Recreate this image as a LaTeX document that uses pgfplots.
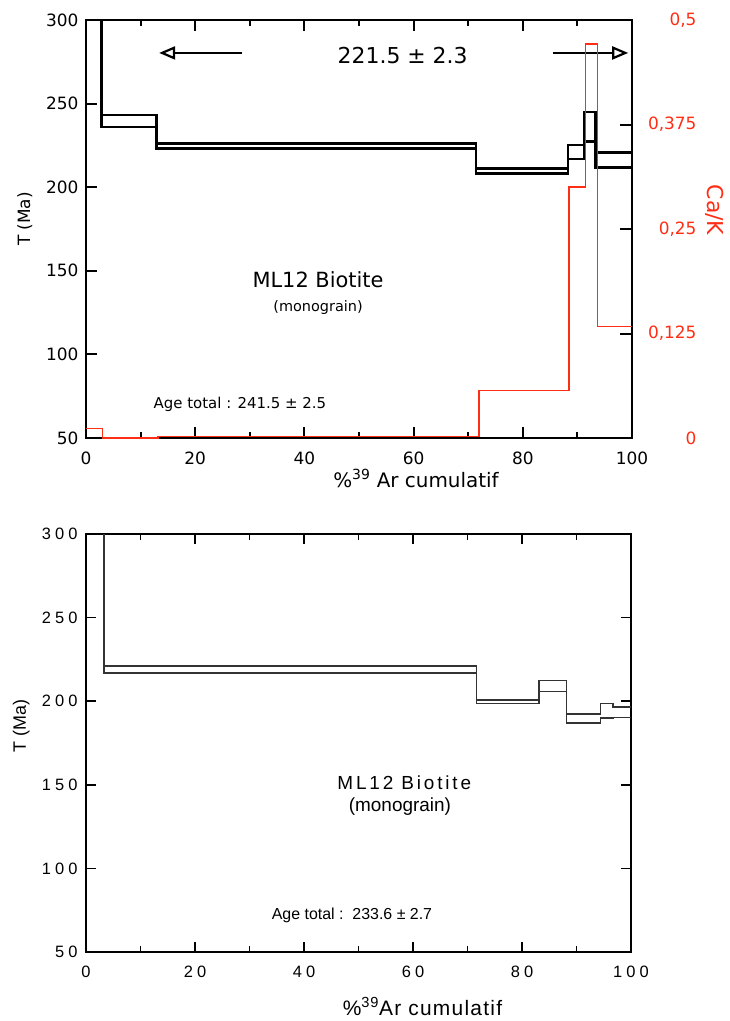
\documentclass[border=0pt]{standalone}
\usepackage{pgfplots}
\pgfplotsset{compat=1.18}
\usetikzlibrary{arrows.meta}
\usepackage{fontspec}
\setmainfont{DejaVu Sans}
\newfontfamily\helv{Liberation Sans}
\newfontfamily\helvsp[LetterSpace=25]{Liberation Sans}
\newfontfamily\helvml[LetterSpace=15]{Liberation Sans}
\newfontfamily\helvlb[LetterSpace=6]{Liberation Sans}
\definecolor{cak}{RGB}{255,45,20}

\begin{document}
\begin{tikzpicture}[x=1bp,y=1bp]
\path[use as bounding box] (0,0) rectangle (730,-1021);

% ---------- top panel: age spectrum ----------
\begin{axis}[
  at={(86bp,-438bp)}, anchor=south west,
  scale only axis, width=546bp, height=418bp,
  xmin=0, xmax=100, ymin=50, ymax=300,
  xtick={0,20,...,100}, minor xtick={10,30,...,90},
  ytick={50,100,...,300},
  xtick pos=both, ytick pos=left,
  tick align=inside,
  major tick length=11bp, minor tick length=6bp,
  axis line style={line width=2.2bp},
  every tick/.style={line width=2bp, black},
  /pgf/number format/assume math mode=true,
  tick label style={font=\fontsize{17}{20}\selectfont},
  xticklabel style={yshift=-10bp},
  yticklabel style={xshift=-4bp},
  xlabel={\%\textsuperscript{39} Ar cumulatif},
  xlabel style={at={(axis description cs:0.5,0)}, anchor=base, xshift=57bp, yshift=-49bp,
    font=\fontsize{20}{24}\selectfont},
  ylabel={T (Ma)},
  ylabel style={at={(axis description cs:0,0.5)}, anchor=south, xshift=10bp, yshift=50bp,
    font=\fontsize{17}{20}\selectfont},
  clip=true,
]
% upper and lower limits of each step
\addplot[const plot, line width=2.6bp, black] coordinates {
  (0,400) (2.8,243.2) (12.9,226.2) (71.4,211.3) (88.3,225.2) (91.2,245.0) (93.3,220.9) (100,220.9)
};
\addplot[const plot, line width=2.6bp, black] coordinates {
  (0,400) (2.8,236.0) (12.9,223.3) (71.4,208.1) (88.3,216.9) (91.2,227.2) (93.3,211.9) (100,211.9)
};
\draw[line width=2bp, -{Triangle[open,length=16bp,width=13bp,line width=2.2bp]}] (axis cs:28.6,280.3) -- (axis cs:13.4,280.3);
\draw[line width=2bp, -{Triangle[open,length=16bp,width=13bp,line width=2.2bp]}] (axis cs:85.5,280.3) -- (axis cs:99.3,280.3);
\node[font=\fontsize{22}{25}\selectfont] at (axis cs:58,278.5) {221.5 ± 2.3};
\node[font=\fontsize{21}{24}\selectfont] at (axis cs:42.5,144.5) {ML12 Biotite};
\node[font=\fontsize{14.5}{17}\selectfont] at (axis cs:42.5,128.3) {(monograin)};
\node[font=\fontsize{15}{18}\selectfont] at (axis cs:28.2,70.3) {Age total : 241.5 ± 2.5};
\end{axis}

% ---------- top panel: Ca/K on the right ----------
\begin{axis}[
  at={(86bp,-438bp)}, anchor=south west,
  scale only axis, width=546bp, height=418bp,
  xmin=0, xmax=100, ymin=0, ymax=0.5,
  axis x line=none, axis y line*=right,
  ytick={0,0.125,0.25,0.375,0.5},
  yticklabels={0,{0,125},{0,25},{0,375},{0,5}},
  tick align=inside,
  major tick length=12bp,
  axis line style={line width=2.2bp},
  every tick/.style={line width=2bp, black},
  yticklabel style={font=\fontsize{17}{20}\selectfont, text=cak, anchor=east, xshift=68bp},
  ylabel={Ca/K},
  ylabel style={rotate=180, at={(axis description cs:1,0.5)}, anchor=south,
    xshift=-19bp, yshift=70bp, text=cak, font=\fontsize{22}{26}\selectfont},
]
\addplot[const plot, line width=1.6bp, cak] coordinates {
  (0,0.0116) (3.0,0) (13.2,0.002) (72.0,0.0566) (88.5,0.300) (91.5,0.4716) (93.7,0.1336) (100,0.1336)
};
\end{axis}

% ---------- bottom panel ----------
\begin{axis}[
  at={(86bp,-952bp)}, anchor=south west,
  scale only axis, width=545bp, height=418bp,
  xmin=0, xmax=100, ymin=50, ymax=300,
  xtick={0,20,...,100}, minor xtick={10,30,...,90},
  ytick={50,100,...,300},
  xtick pos=both, ytick pos=both,
  tick align=inside,
  major tick length=10bp, minor tick length=6bp,
  axis line style={line width=1.6bp},
  every tick/.style={line width=1.5bp, black},
  /pgf/number format/assume math mode=true,
  tick label style={font=\helvsp\fontsize{16.5}{19}\selectfont},
  xticklabel style={yshift=-10bp},
  yticklabel style={xshift=-5bp},
  xlabel={\%\textsuperscript{39}Ar cumulatif},
  xlabel style={at={(axis description cs:0.5,0)}, anchor=base, xshift=64bp, yshift=-63bp,
    font=\helvlb\fontsize{21}{25}\selectfont},
  ylabel={T (Ma)},
  ylabel style={at={(axis description cs:0,0.5)}, anchor=south, xshift=17bp, yshift=53bp,
    font=\helv\fontsize{18}{22}\selectfont},
]
\addplot[const plot, line width=1.3bp, black!80] coordinates {
  (0,400) (3.3,221.1) (71.7,200.7) (83.1,212.3) (88.2,192.3) (94.4,198.5) (96.7,196.5) (100,196.5)
};
\addplot[const plot, line width=1.3bp, black!80] coordinates {
  (0,400) (3.3,216.9) (71.7,198.7) (83.1,205.7) (88.2,187.0) (94.4,190.0) (96.7,190.4) (100,190.4)
};
\node[font=\helvml\fontsize{19}{22}\selectfont] at (axis cs:58.4,151) {ML12 Biotite};
\node[font=\helv\fontsize{19}{22}\selectfont] at (axis cs:57.6,137) {(monograin)};
\node[font=\helv\fontsize{16}{19}\selectfont] at (axis cs:48.8,72) {Age total :\ \ 233.6 ± 2.7};
\end{axis}
\end{tikzpicture}
\end{document}
